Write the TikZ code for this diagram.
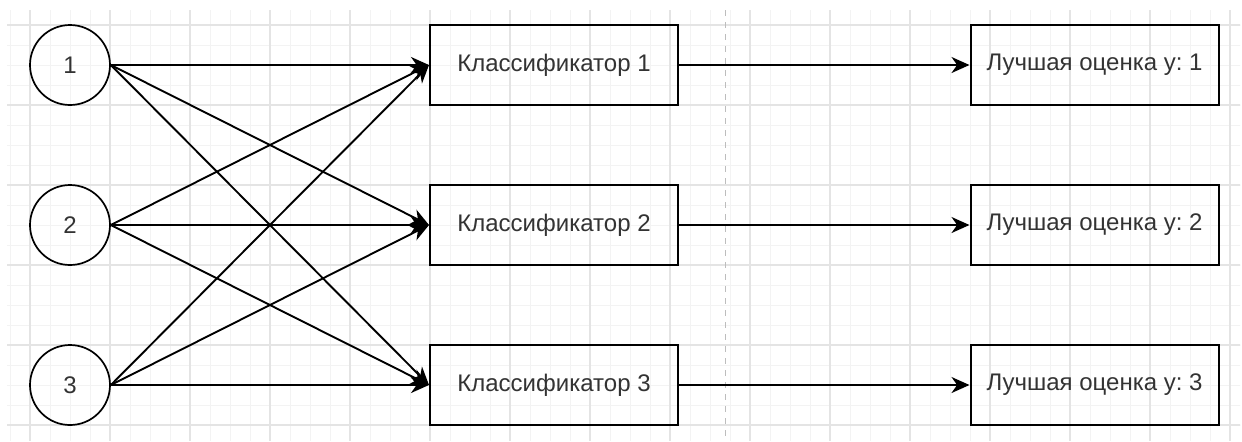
\documentclass[tikz,border=0pt]{standalone}
\usepackage{fontspec}
\setmainfont{Liberation Sans}
\usetikzlibrary{arrows.meta}
\frenchspacing
\definecolor{txtgray}{HTML}{333333}
\definecolor{gridminor}{HTML}{F3F3F3}
\definecolor{gridmajor}{HTML}{E4E4E4}
\definecolor{sepgray}{HTML}{BDBDBD}
\tikzset{
  inputnode/.style={circle, draw=black, line width=0.85pt, minimum size=40pt, inner sep=0pt,
    text=txtgray, font=\fontsize{12}{14}\selectfont},
  boxnode/.style={rectangle, draw=black, line width=1pt, minimum width=124pt, minimum height=40pt,
    inner sep=0pt, text=txtgray, font=\fontsize{12}{14}\selectfont},
  link/.style={line width=0.95pt, -{Stealth[length=9pt,width=8pt,inset=2.8pt]}},
}
\begin{document}
\begin{tikzpicture}[x=0.5pt,y=-0.5pt]
  \useasboundingbox (0,0) rectangle (1242,441);
  \fill[white] (0,0) rectangle (1242,441);
  % background grid
  \begin{scope}
    \clip (7,10) rectangle (1240,441);
    \foreach \gx in {10,30,...,1250} \draw[gridminor, line width=0.5pt] (\gx,0) -- (\gx,441);
    \foreach \gy in {5,25,...,445} \draw[gridminor, line width=0.5pt] (0,\gy) -- (1242,\gy);
    \foreach \gx in {30,110,...,1250} \draw[gridmajor, line width=0.6pt] (\gx,0) -- (\gx,441);
    \foreach \gy in {25,105,...,445} \draw[gridmajor, line width=0.6pt] (0,\gy) -- (1242,\gy);
  \end{scope}
  % separator
  \draw[sepgray, line width=0.5pt, dash pattern=on 3pt off 3pt] (725,10) -- (725,441);

  % inputs
  \node[inputnode] (i1) at (70,65) {1};
  \node[inputnode] (i2) at (70,225) {2};
  \node[inputnode] (i3) at (70,385) {3};

  % classifiers
  \node[boxnode] (c1) at (554,65) {Классификатор 1};
  \node[boxnode] (c2) at (554,225) {Классификатор 2};
  \node[boxnode] (c3) at (554,385) {Классификатор 3};

  % best estimates
  \node[boxnode] (b1) at (1094.5,65) {Лучшая оценка y: 1};
  \node[boxnode] (b2) at (1094.5,225) {Лучшая оценка y: 2};
  \node[boxnode] (b3) at (1094.5,385) {Лучшая оценка y: 3};

  % every input feeds every classifier
  \foreach \i in {1,2,3}
    \foreach \c in {1,2,3}
      \draw[link] (i\i.east) -- (c\c.west);

  % classifier outputs
  \foreach \c in {1,2,3}
    \draw[link] (c\c.east) -- (b\c.west);
\end{tikzpicture}
\end{document}
